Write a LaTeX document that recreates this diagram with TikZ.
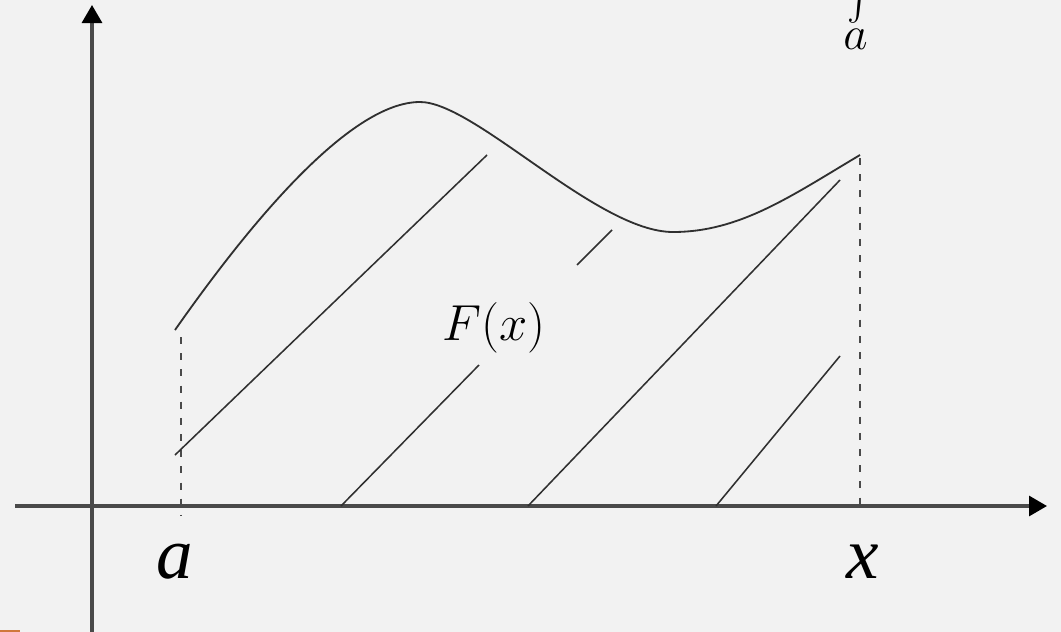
\RequirePackage{fix-cm}
\documentclass[tikz,border=0pt]{standalone}
\usepackage{exscale}
\usepackage{fontspec}
\usepackage{tikz}
\usetikzlibrary{arrows.meta, positioning}
\newfontfamily\labelfont{Liberation Serif}
\definecolor{paper}{HTML}{F2F2F2}
\definecolor{axisgray}{HTML}{4A4A4A}
\definecolor{inkdark}{HTML}{303030}
\definecolor{markorange}{HTML}{D0783C}

\begin{document}
\begin{tikzpicture}[x=0.025cm, y=-0.025cm,
		axis/.style={draw=axisgray, line width=2.2pt, -{Triangle[length=0.45cm, width=0.5cm, color=black]}},
		graph/.style={draw=inkdark, line width=1.3pt, line join=round},
		hatch/.style={draw=inkdark, line width=1.1pt},
		guide/.style={draw=axisgray, line width=1.8pt, dash pattern=on 5pt off 6.5pt},
		ticklabel/.style={font=\labelfont\itshape\fontsize{52}{56}\selectfont, text=black, inner sep=0pt},
		mathlabel/.style={font=\fontsize{36}{40}\selectfont, text=black, inner sep=0pt}
	]
	% Canvas
	\fill[paper] (0,0) rectangle (1061,632);
	\useasboundingbox (0,0) rectangle (1061,632);
	\fill[markorange] (0,629.5) rectangle (20,632);

	% Axes
	\coordinate (xstart) at (15,506);
	\coordinate (xend) at (1047,506);
	\coordinate (ystart) at (92,632);
	\coordinate (yend) at (92,5);
	\draw[axis] (xstart) -- (xend);
	\draw[axis] (ystart) -- (yend);

	% Guides at a and x
	\coordinate (abase) at (181,515);
	\coordinate (atop) at (181,337);
	\coordinate (xbase) at (860,506);
	\coordinate (xtop) at (860,158);
	\draw[guide] (atop) -- (abase);
	\draw[guide] (xtop) -- (xbase);

	% Graph of f
	\coordinate (fa) at (175,330);
	\coordinate (fmax) at (420,102);
	\coordinate (fmin) at (673,232);
	\coordinate (fx) at (860,155);
	\draw[graph] (fa) .. controls (257,213) and (353,102) .. (fmax)
		.. controls (475,102) and (597,232) .. (fmin)
		.. controls (740,232) and (791,196) .. (fx);

	% Hatching
	\draw[hatch] (175,455) -- (487,155);
	\draw[hatch] (577,265) -- (612,230);
	\draw[hatch] (341,506) -- (479,365);
	\draw[hatch] (528,506) -- (840,180);
	\draw[hatch] (716,506) -- (840,356);

	% Labels
	\node[ticklabel] (alabel) at (175,562) {a};
	\node[ticklabel] (xlabel) at (863,562) {x};
	\node[mathlabel] (flabel) at (494,328) {$F(x)$};
	\node[mathlabel, font=\fontsize{48}{52}\selectfont, anchor=south] (intlabel) at (859,53) {$\int\limits_{a}$};
\end{tikzpicture}
\end{document}
